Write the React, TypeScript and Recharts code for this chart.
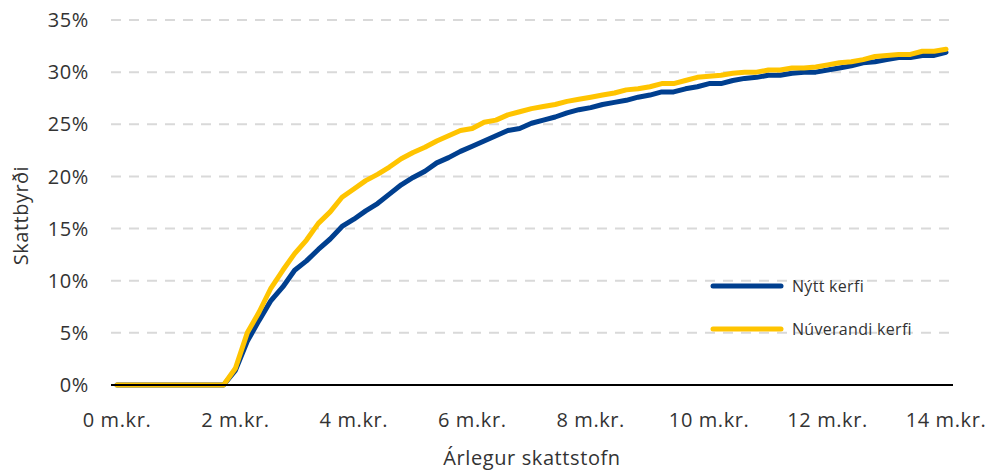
import React from 'react';
import { LineChart, Line, XAxis, YAxis, CartesianGrid, Label } from 'recharts';

// Árlegur skattstofn (m.kr.), one point per 200 þús.
const INCOME = [
  0, 0.2, 0.4, 0.6, 0.8, 1, 1.2, 1.4, 1.6, 1.8,
  2, 2.2, 2.4, 2.6, 2.8, 3, 3.2, 3.4, 3.6, 3.8,
  4, 4.2, 4.4, 4.6, 4.8, 5, 5.2, 5.4, 5.6, 5.8,
  6, 6.2, 6.4, 6.6, 6.8, 7, 7.2, 7.4, 7.6, 7.8,
  8, 8.2, 8.4, 8.6, 8.8, 9, 9.2, 9.4, 9.6, 9.8,
  10, 10.2, 10.4, 10.6, 10.8, 11, 11.2, 11.4, 11.6, 11.8,
  12, 12.2, 12.4, 12.6, 12.8, 13, 13.2, 13.4, 13.6, 13.8,
  14,
];

// Skattbyrði (%)
const NYTT = [
  0, 0, 0, 0, 0, 0, 0, 0, 0, 0,
  1.4, 4.2, 6.2, 8.1, 9.4, 11.0, 11.9, 13.0, 14.0, 15.2,
  15.9, 16.7, 17.4, 18.3, 19.2, 19.9, 20.5, 21.3, 21.8, 22.4,
  22.9, 23.4, 23.9, 24.4, 24.6, 25.1, 25.4, 25.7, 26.1, 26.4,
  26.6, 26.9, 27.1, 27.3, 27.6, 27.8, 28.1, 28.1, 28.4, 28.6,
  28.9, 28.9, 29.2, 29.4, 29.5, 29.7, 29.7, 29.9, 30.0, 30.0,
  30.2, 30.4, 30.6, 30.9, 31.0, 31.2, 31.4, 31.4, 31.6, 31.6,
  31.9,
];

const NUVERANDI = [
  0, 0, 0, 0, 0, 0, 0, 0, 0, 0,
  1.6, 5.0, 7.0, 9.3, 11.0, 12.6, 13.9, 15.5, 16.6, 18.0,
  18.8, 19.6, 20.2, 20.9, 21.7, 22.3, 22.8, 23.4, 23.9, 24.4,
  24.6, 25.2, 25.4, 25.9, 26.2, 26.5, 26.7, 26.9, 27.2, 27.4,
  27.6, 27.8, 28.0, 28.3, 28.4, 28.6, 28.9, 28.9, 29.2, 29.5,
  29.6, 29.7, 29.9, 30.0, 30.0, 30.2, 30.2, 30.4, 30.4, 30.5,
  30.7, 30.9, 31.0, 31.2, 31.5, 31.6, 31.7, 31.7, 32.0, 32.0,
  32.2,
];

const X_TICKS = [0, 2, 4, 6, 8, 10, 12, 14];
const Y_TICKS = [0, 5, 10, 15, 20, 25, 30, 35];

const BLUE = '#003f8f';
const YELLOW = '#ffc400';
const TEXT = '#333333';
const FONT = '"Open Sans", sans-serif';

const SERIES = [
  { key: 'nytt', name: 'Nýtt kerfi', color: BLUE },
  { key: 'nuverandi', name: 'Núverandi kerfi', color: YELLOW },
];

const data = INCOME.map((x, i) => ({ x, nytt: NYTT[i], nuverandi: NUVERANDI[i] }));

const YTitle = ({ viewBox }: any) => {
  const cx = viewBox.x + 20;
  const cy = viewBox.y + viewBox.height / 2 + 13;
  return (
    <text x={cx} y={cy} transform={`rotate(-90 ${cx} ${cy})`} textAnchor="middle" dominantBaseline="central"
      fill={TEXT} fontSize={20} fontFamily={FONT} letterSpacing={0.5}>
      Skattbyrði
    </text>
  );
};

export default function App() {
  return (
    <div style={{ position: 'absolute', left: 0, top: 0, width: 990, height: 470, background: '#fff' }}>
      <LineChart width={990} height={470} data={data} margin={{ top: 20, right: 37, bottom: 0, left: 0 }}>
        <CartesianGrid vertical={false} stroke="#d9d9d9" strokeWidth={2} strokeDasharray="10 8" />
        <XAxis
          dataKey="x"
          type="number"
          domain={[0, 14]}
          ticks={X_TICKS}
          tickFormatter={(v) => `${v} m.kr.`}
          padding={{ left: 6, right: 7 }}
          height={85}
          tickLine={false}
          tickSize={0}
          tickMargin={28}
          axisLine={{ stroke: '#000', strokeWidth: 2 }}
          tick={{ fill: TEXT, fontSize: 20, fontFamily: FONT, letterSpacing: 0.6 }}
        >
          <Label value="Árlegur skattstofn" position="insideBottom" offset={5}
            style={{ fill: TEXT, fontSize: 20, fontFamily: FONT, letterSpacing: 0.6 }} />
        </XAxis>
        <YAxis
          domain={[0, 35]}
          ticks={Y_TICKS}
          tickFormatter={(v) => `${v}%`}
          width={111}
          axisLine={false}
          tickLine={false}
          tickSize={0}
          tickMargin={22}
          tick={{ fill: TEXT, fontSize: 20, fontFamily: FONT, letterSpacing: 0.6 }}
        >
          <Label content={<YTitle />} />
        </YAxis>
        {SERIES.map((s) => (
          <Line key={s.key} type="linear" dataKey={s.key} name={s.name} stroke={s.color} strokeWidth={5}
            strokeLinecap="round" strokeLinejoin="round" dot={false} isAnimationActive={false} />
        ))}
      </LineChart>
      {/* legend sits inside the plot, lower right */}
      <div style={{ position: 'absolute', left: 709, top: 264, fontFamily: FONT, fontSize: 16, color: TEXT }}>
        {SERIES.map((s) => (
          <div key={s.key} style={{ display: 'flex', alignItems: 'center', height: 43 }}>
            <svg width={76} height={10}>
              <line x1={4} y1={5} x2={72} y2={5} stroke={s.color} strokeWidth={5} strokeLinecap="round" />
            </svg>
            <span style={{ marginLeft: 7, letterSpacing: 0.3 }}>{s.name}</span>
          </div>
        ))}
      </div>
    </div>
  );
}
